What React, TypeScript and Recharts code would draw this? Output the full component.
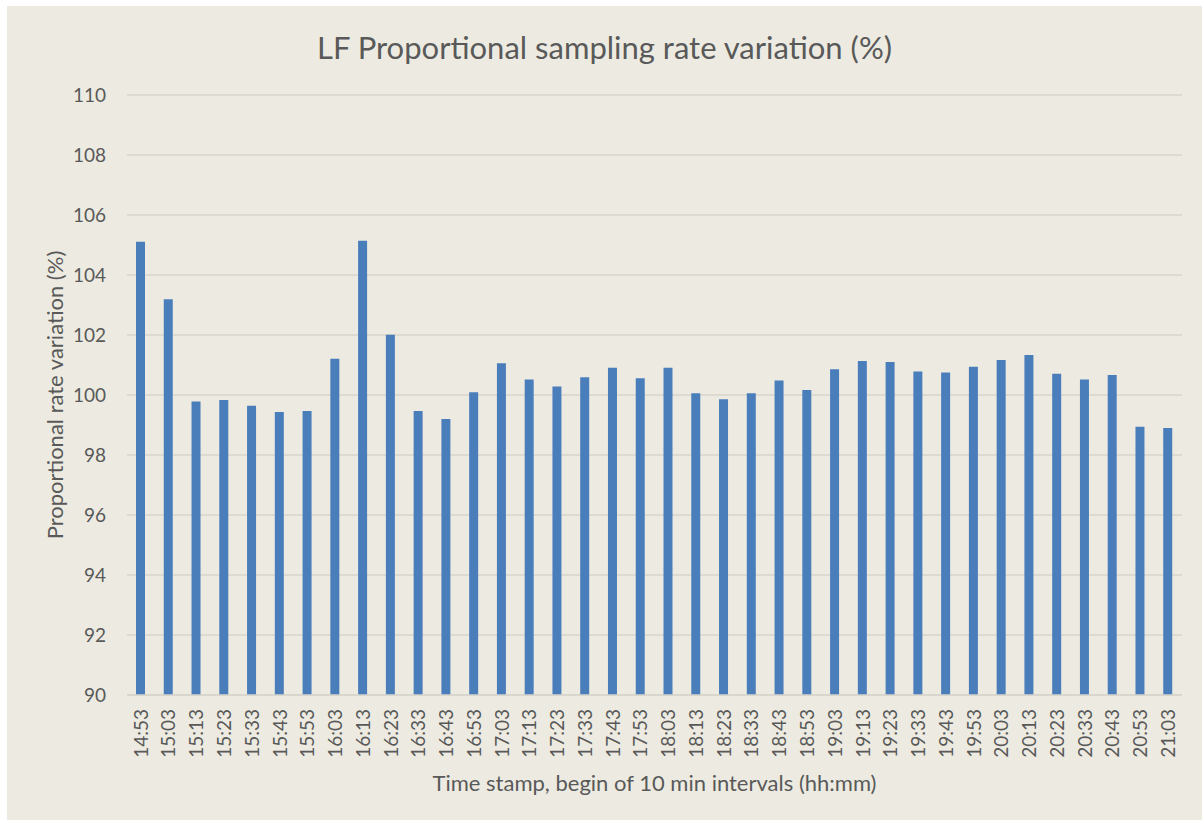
import React from 'react';
import { BarChart, Bar, XAxis, YAxis, CartesianGrid, Label } from 'recharts';

const categories = [
  '14:53', '15:03', '15:13', '15:23', '15:33', '15:43', '15:53',
  '16:03', '16:13', '16:23', '16:33', '16:43', '16:53',
  '17:03', '17:13', '17:23', '17:33', '17:43', '17:53',
  '18:03', '18:13', '18:23', '18:33', '18:43', '18:53',
  '19:03', '19:13', '19:23', '19:33', '19:43', '19:53',
  '20:03', '20:13', '20:23', '20:33', '20:43', '20:53', '21:03',
];

const rateValues = [
  105.11, 103.19, 99.78, 99.83, 99.64, 99.43, 99.47,
  101.21, 105.14, 102.01, 99.47, 99.2, 100.09,
  101.06, 100.52, 100.28, 100.59, 100.91, 100.56,
  100.91, 100.06, 99.86, 100.06, 100.48, 100.17,
  100.86, 101.13, 101.1, 100.78, 100.75, 100.94,
  101.17, 101.33, 100.71, 100.52, 100.67, 98.94, 98.9,
];

const yTicks = [90, 92, 94, 96, 98, 100, 102, 104, 106, 108, 110];

const TITLE = 'LF Proportional sampling rate variation (%)';
const Y_LABEL = 'Proportional rate variation (%)';
const X_LABEL = 'Time stamp, begin of 10 min intervals (hh:mm)';

const data = categories.map((c, i) => ({ time: c, value: rateValues[i] }));

const FONT = 'Lato, "Open Sans", sans-serif';
const TEXT = '#595959';

const XTick = (props: any) => {
  const { x, y, payload } = props;
  const y0 = y + 6;
  return (
    <text
      x={x}
      y={y0}
      transform={`rotate(-90, ${x}, ${y0})`}
      textAnchor="end"
      dy="0.36em"
      fill={TEXT}
      fontSize={19}
      fontFamily={FONT}
    >
      {payload.value}
    </text>
  );
};

const YLabel = (props: any) => {
  const vb = props.viewBox || {};
  const cx = 48;
  const cy = vb.y + vb.height / 2;
  return (
    <text
      x={cx}
      y={cy}
      transform={`rotate(-90, ${cx}, ${cy})`}
      textAnchor="middle"
      dy="0.36em"
      fill={TEXT}
      fontSize={22}
      fontFamily={FONT}
    >
      {Y_LABEL}
    </text>
  );
};

const XLabel = (props: any) => {
  const vb = props.viewBox || {};
  const cx = vb.x + vb.width / 2;
  const cy = 777;
  return (
    <text x={cx} y={cy} textAnchor="middle" dy="0.36em" fill={TEXT} fontSize={22} fontFamily={FONT}>
      {X_LABEL}
    </text>
  );
};

export default function App() {
  return (
    <div
      style={{
        position: 'absolute',
        left: 7,
        top: 6,
        width: 1195,
        height: 814,
        background: '#edebe1',
      }}
    >
      <div
        style={{
          position: 'absolute',
          left: 0,
          top: 22,
          width: 1195,
          textAlign: 'center',
          fontFamily: FONT,
          fontSize: 31,
          color: TEXT,
          lineHeight: '38px',
        }}
      >
        {TITLE}
      </div>
      <BarChart
        width={1195}
        height={814}
        data={data}
        margin={{ top: 89, right: 20, left: 0, bottom: 20 }}
        barCategoryGap={0}
      >
        <CartesianGrid vertical={false} stroke="#d7d5cd" strokeWidth={1.5} />
        <XAxis
          dataKey="time"
          interval={0}
          height={105}
          tickLine={false}
          axisLine={{ stroke: '#d7d5cd', strokeWidth: 1.5 }}
          tick={<XTick />}
        >
          <Label content={<XLabel />} />
        </XAxis>
        <YAxis
          domain={[90, 110]}
          ticks={yTicks}
          width={120}
          tickLine={false}
          axisLine={false}
          tickMargin={15}
          tick={{ fill: TEXT, fontSize: 19, fontFamily: FONT }}
          interval={0}
        >
          <Label content={<YLabel />} />
        </YAxis>
        <Bar dataKey="value" fill="#4a7ebb" barSize={9} isAnimationActive={false} />
      </BarChart>
    </div>
  );
}
